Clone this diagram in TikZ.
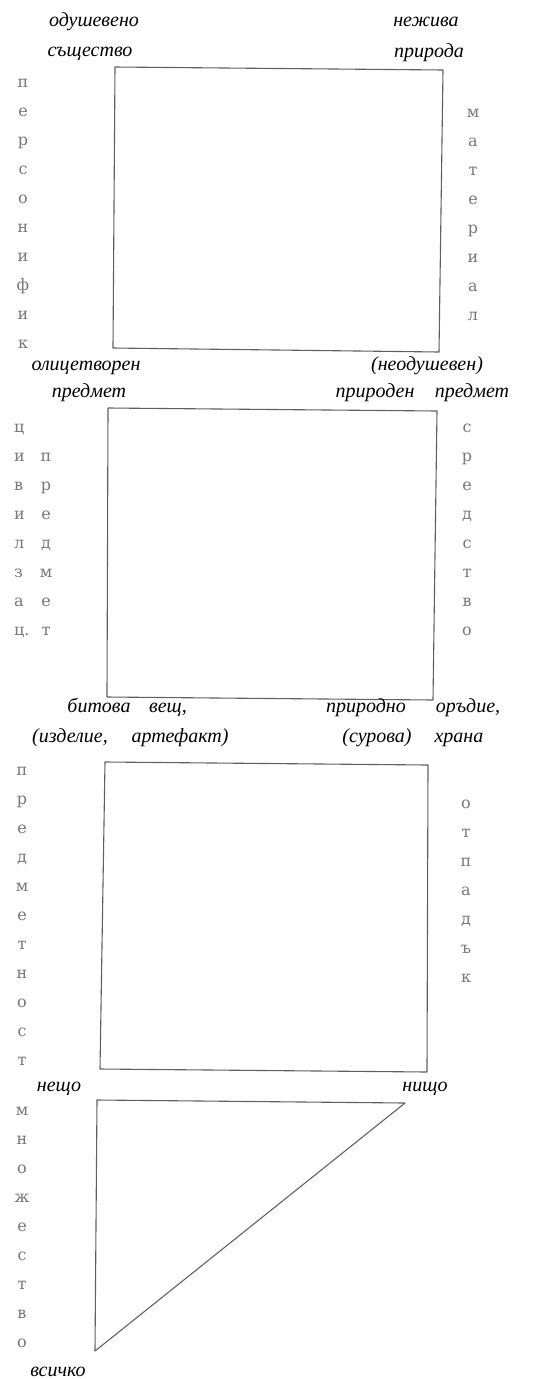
\documentclass[tikz,border=0pt]{standalone}
\usepackage{fontspec}
\setmainfont{Liberation Serif}
\newfontfamily\letterfont{DejaVu Serif}
\usetikzlibrary{positioning}
\definecolor{inkgray}{RGB}{95,95,95}
\definecolor{lettergray}{RGB}{120,120,120}

\begin{document}
\begin{tikzpicture}[x=1pt,y=-1pt,
  lbl/.style={font=\fontsize{20}{24}\selectfont\itshape,inner sep=0pt,anchor=base},
  letter/.style={font=\letterfont\fontsize{16}{18}\selectfont,text=lettergray,inner sep=0pt,anchor=base},
  frame/.style={draw=inkgray,line width=1.1pt,line join=round}
]
  \useasboundingbox (0,0) rectangle (537,1379);

  % first box
  \draw[frame] (115,67) -- (443,70) -- (439,352) -- (113,348) -- cycle;
  \node[lbl] (odush) at (94,26) {одушевено};
  \node[lbl] (sasht) at (90,56) {същество};
  \node[lbl] (nezhiva) at (426,26) {нежива};
  \node[lbl] (priroda) at (429,57) {природа};
  \foreach \ch [count=\i from 0] in {п,е,р,с,о,н,и,ф,и,к}
    \node[letter] (pers\i) at (23,87+29*\i) {\ch};
  \foreach \ch [count=\i from 0] in {м,а,т,е,р,и,а,л}
    \node[letter] (mater\i) at (473,117+29*\i) {\ch};

  % second box
  \draw[frame] (108,408) -- (437,411) -- (433,700) -- (107,697) -- cycle;
  \node[lbl] (olits) at (86,370) {олицетворен};
  \node[lbl] (neodush) at (427,370) {(неодушевен)};
  \node[lbl] (predmL) at (89,397) {предмет};
  \node[lbl] (priroden) at (375,397) {природен};
  \node[lbl] (predmR) at (472,397) {предмет};
  \foreach \ch [count=\i from 0] in {ц,и,в,и,л,з,а,ц.}
    \node[letter,anchor=base west] (tsiv\i) at (14,432+29*\i) {\ch};
  \foreach \ch [count=\i from 1] in {п,р,е,д,м,е,т}
    \node[letter] (predm\i) at (46,432+29*\i) {\ch};
  \foreach \ch [count=\i from 0] in {с,р,е,д,с,т,в,о}
    \node[letter] (sredst\i) at (467,432+29*\i) {\ch};

  % third box
  \draw[frame] (105,762) -- (428,765) -- (427,1072) -- (100,1069) -- cycle;
  \node[lbl] (bitova) at (99,712) {битова};
  \node[lbl] (veshch) at (168,712) {вещ,};
  \node[lbl] (prirodno) at (366,712) {природно};
  \node[lbl] (orudie) at (468,712) {оръдие,};
  \node[lbl] (izdelie) at (70,742) {(изделие,};
  \node[lbl] (artefakt) at (180,742) {артефакт)};
  \node[lbl] (surova) at (377,742) {(сурова)};
  \node[lbl] (hrana) at (459,742) {храна};
  \foreach \ch [count=\i from 0] in {п,р,е,д,м,е,т,н,о,с,т}
    \node[letter] (predmetn\i) at (22,775+29*\i) {\ch};
  \foreach \ch [count=\i from 0] in {о,т,п,а,д,ъ,к}
    \node[letter] (otpad\i) at (466,808+29*\i) {\ch};

  % triangle
  \draw[frame] (97,1100) -- (405,1103) -- (95,1351) -- cycle;
  \node[lbl] (neshcho) at (59,1091) {нещо};
  \node[lbl] (nishcho) at (425,1091) {нищо};
  \node[lbl] (vsichko) at (58,1376) {всичко};
  \foreach \ch [count=\i from 0] in {м,н,о,ж,е,с,т,в,о}
    \node[letter] (mnozh\i) at (22,1115+29*\i) {\ch};
\end{tikzpicture}
\end{document}
